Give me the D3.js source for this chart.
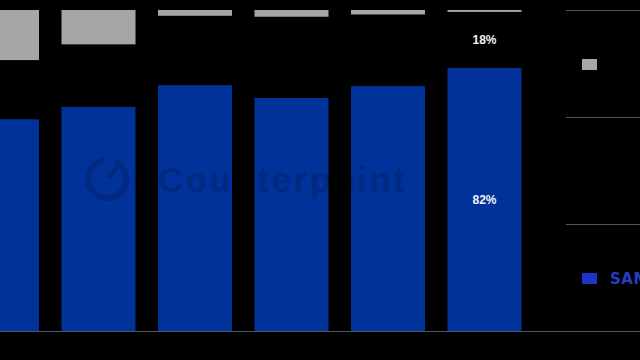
<!DOCTYPE html>
<html>
<head>
<meta charset="utf-8">
<script src="https://cdn.jsdelivr.net/npm/d3@7/dist/d3.min.js"></script>
<style>
  html, body { margin: 0; padding: 0; background: #000; }
  svg { display: block; }
</style>
</head>
<body>
<svg id="chart" width="640" height="360"></svg>
<script>
// ---- data ----
const categories = ["P1", "P2", "P3", "P4", "P5", "P6"];
const samsungShare = [66.0, 69.8, 76.6, 72.6, 76.3, 82.0];   // blue, bottom
const grayShare    = [15.6, 10.7, 1.8, 2.1, 1.4, 0.6];        // gray, top
const seriesNames  = ["SAMSUNG", "Others", "Other"];
const labelBar     = "P6";
const labelValues  = [82, 18];                                 // shown on last bar
const gridTicks    = [33.33, 66.67, 100];

// ---- setup ----
const W = 640, H = 360;
const svg = d3.select("#chart");
svg.append("rect").attr("width", W).attr("height", H).attr("fill", "#000");

const y = d3.scaleLinear().domain([0, 100]).range([331, 10]);
const x = d3.scaleBand().domain(categories).range([-35, 521.5]).paddingInner(0.233).paddingOuter(0);

const rows = categories.map((c, i) => ({
  cat: c,
  samsung: samsungShare[i],
  black: 100 - samsungShare[i] - grayShare[i],
  gray: grayShare[i]
}));
const keys = ["samsung", "black", "gray"];
const colors = { samsung: "#00329a", black: "#000000", gray: "#a6a6a6" };
const stacked = d3.stack().keys(keys)(rows);

// right-side gridline pieces (legend area)
svg.append("g").selectAll("line").data(gridTicks).join("line")
  .attr("x1", 566).attr("x2", W)
  .attr("y1", d => Math.round(y(d)) + 0.5).attr("y2", d => Math.round(y(d)) + 0.5)
  .attr("stroke", "#555").attr("stroke-width", 1);

// bars
svg.append("g").selectAll("g").data(stacked).join("g")
  .attr("fill", d => colors[d.key])
  .selectAll("rect").data(d => d).join("rect")
  .attr("x", d => x(d.data.cat))
  .attr("width", x.bandwidth())
  .attr("y", d => y(d[1]))
  .attr("height", d => y(d[0]) - y(d[1]));

// baseline
svg.append("line").attr("x1", 0).attr("x2", W)
  .attr("y1", y(0) + 0.5).attr("y2", y(0) + 0.5)
  .attr("stroke", "#4f5562").attr("stroke-width", 1);

// labels on last bar
const li = categories.indexOf(labelBar);
const labelPos = [
  (y(0) + y(samsungShare[li])) / 2,
  (y(samsungShare[li]) + y(samsungShare[li] + rows[li].black)) / 2
];
svg.append("g").selectAll("text").data(labelValues).join("text")
  .attr("x", x(labelBar) + x.bandwidth() / 2)
  .attr("y", (d, i) => labelPos[i])
  .attr("dy", "0.35em")
  .attr("text-anchor", "middle")
  .attr("fill", "#f2f2f2")
  .attr("font-family", "Liberation Sans, Arial, sans-serif")
  .attr("font-weight", "bold")
  .attr("font-size", 12)
  .text(d => d + "%");

// watermark
const wm = svg.append("g").attr("opacity", 0.16);
const arc = d3.arc().innerRadius(16).outerRadius(22).startAngle(0.45).endAngle(2 * Math.PI - 0.1);
wm.append("path").attr("d", arc()).attr("transform", "translate(107,179)").attr("fill", "#000");
wm.append("line").attr("x1", 108).attr("y1", 178).attr("x2", 117).attr("y2", 167)
  .attr("stroke", "#000").attr("stroke-width", 5);
wm.append("text").attr("x", 158).attr("y", 192)
  .attr("font-family", "Liberation Sans, Arial, sans-serif")
  .attr("font-weight", "bold").attr("font-size", 35)
  .attr("textLength", 247).attr("lengthAdjust", "spacing")
  .attr("fill", "#000").text("Counterpoint");

// legend
const legend = [
  { name: seriesNames[2], color: "#a8a8a8", y: 59, text: "" },
  { name: seriesNames[0], color: "#1f33c6", y: 273, text: seriesNames[0] }
];
const lg = svg.append("g");
lg.selectAll("rect").data(legend).join("rect")
  .attr("x", 582).attr("y", d => d.y).attr("width", 15).attr("height", 11)
  .attr("fill", d => d.color);
lg.selectAll("text").data(legend.filter(d => d.text)).join("text")
  .attr("x", 610).attr("y", d => d.y + 6).attr("dy", "0.36em")
  .attr("font-family", "DejaVu Sans, sans-serif")
  .attr("font-weight", "bold").attr("font-size", 15)
  .attr("letter-spacing", 0.5)
  .attr("fill", "#2a3cc0")
  .text(d => d.text);
</script>
</body>
</html>
